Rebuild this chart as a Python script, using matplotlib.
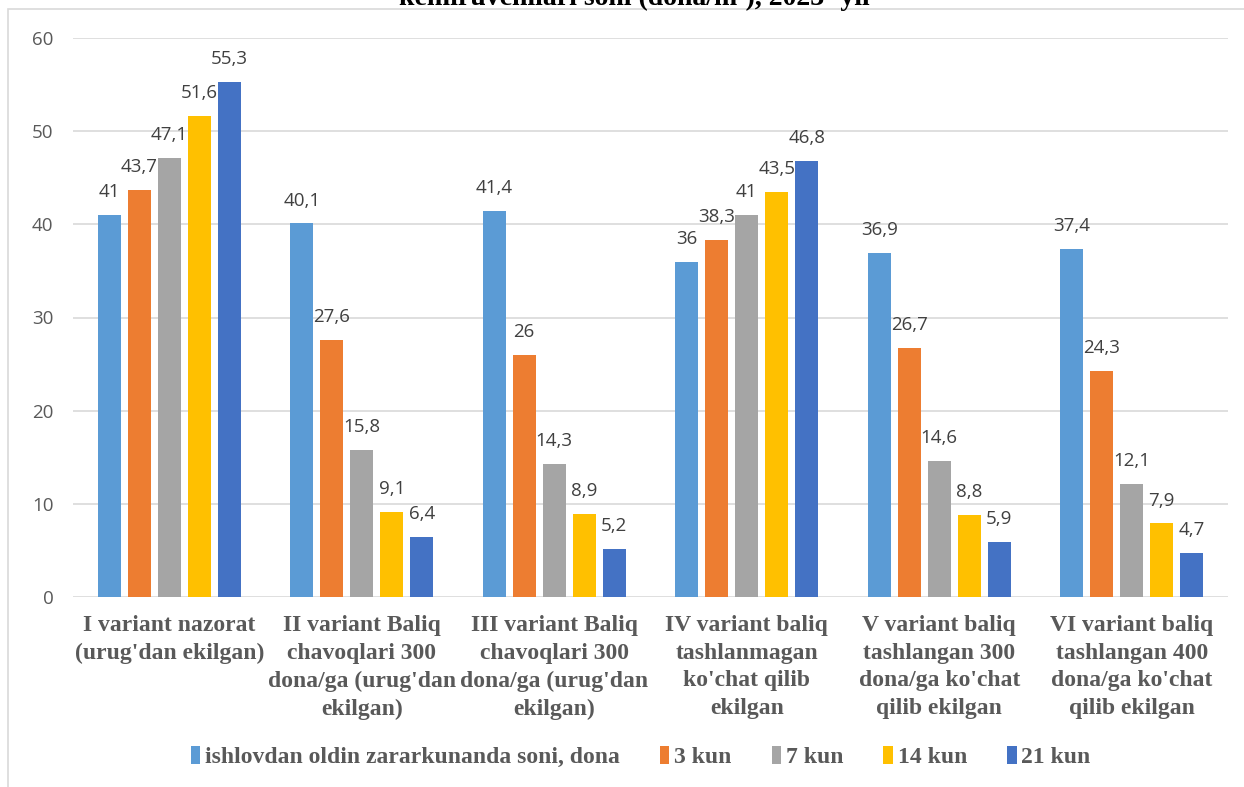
import numpy as np
import matplotlib.pyplot as plt
from matplotlib.patches import Rectangle

# ---------------- ma'lumotlar ----------------
categories = [
    "I variant nazorat\n(urug'dan ekilgan)",
    "II variant Baliq\nchavoqlari 300\ndona/ga (urug'dan\nekilgan)",
    "III variant Baliq\nchavoqlari 300\ndona/ga (urug'dan\nekilgan)",
    "IV variant baliq\ntashlanmagan\nko'chat qilib\nekilgan",
    "V variant baliq\ntashlangan 300\ndona/ga ko'chat\nqilib ekilgan",
    "VI variant baliq\ntashlangan 400\ndona/ga ko'chat\nqilib ekilgan",
]
series_names = ["ishlovdan oldin zararkunanda soni, dona", "3 kun", "7 kun", "14 kun", "21 kun"]
before = [41.0, 40.1, 41.4, 36.0, 36.9, 37.4]
day3 = [43.7, 27.6, 26.0, 38.3, 26.7, 24.3]
day7 = [47.1, 15.8, 14.3, 41.0, 14.6, 12.1]
day14 = [51.6, 9.1, 8.9, 43.5, 8.8, 7.9]
day21 = [55.3, 6.4, 5.2, 46.8, 5.9, 4.7]
title = "kemiruvchilari soni (dona/m²), 2023- yil"

colors = ['#5B9BD5', '#ED7D31', '#A5A5A5', '#FFC000', '#4472C4']
data = [before, day3, day7, day14, day21]

fig = plt.figure(figsize=(12.44, 7.87), dpi=100)
ax = fig.add_axes([73/1244, 1-597/787, (1228-73)/1244, (597-38)/787])

# tashqi ramka
fig.patches.append(Rectangle((8/1244, -0.05), 1.2, 1-9/787+0.05, transform=fig.transFigure,
                             fill=False, edgecolor='#D9D9D9', linewidth=1.2))

x = np.arange(len(categories))
step, width = 0.156, 0.12
for i, (vals, c, name) in enumerate(zip(data, colors, series_names)):
    pos = x + (i - 2) * step
    bars = ax.bar(pos, vals, width=width, color=c, label=name, zorder=3)
    for b, v in zip(bars, vals):
        lbl = ('%g' % v).replace('.', ',')
        ax.annotate(lbl, (b.get_x() + b.get_width()/2, v), xytext=(0, 10),
                    textcoords='offset points', ha='center', va='bottom',
                    fontsize=13.5, color='#404040', family='Open Sans')

ax.set_xlim(-0.5, len(categories) - 0.5)
ax.set_ylim(0, 60)
ax.set_yticks(range(0, 61, 10))
ax.yaxis.grid(True, color='#D9D9D9', linewidth=1.2, zorder=0)
for s in ax.spines.values():
    s.set_visible(False)
ax.tick_params(axis='both', length=0)
ax.tick_params(axis='y', labelsize=13.5, labelcolor='#595959', pad=14)
for t in ax.get_yticklabels():
    t.set_family('Open Sans')
ax.set_xticks(x)
ax.set_xticklabels(categories, fontsize=17, fontweight='bold', color='#595959',
                   family='Liberation Serif', linespacing=1.42, va='top')
ax.tick_params(axis='x', pad=13)

leg = fig.legend(loc='center', bbox_to_anchor=(0.515, 1-757/787), ncol=5, frameon=False,
                 prop={'family': 'Liberation Serif', 'weight': 'bold', 'size': 17},
                 handlelength=0.4, handleheight=0.8, handletextpad=0.2, columnspacing=1.7)
for t in leg.get_texts():
    t.set_color('#595959')

fig.text(0.51, 1-5/787, title, ha='center', va='baseline', fontsize=20,
         fontweight='bold', family='Liberation Serif', color='black')

fig.savefig('out.png', dpi=100)
